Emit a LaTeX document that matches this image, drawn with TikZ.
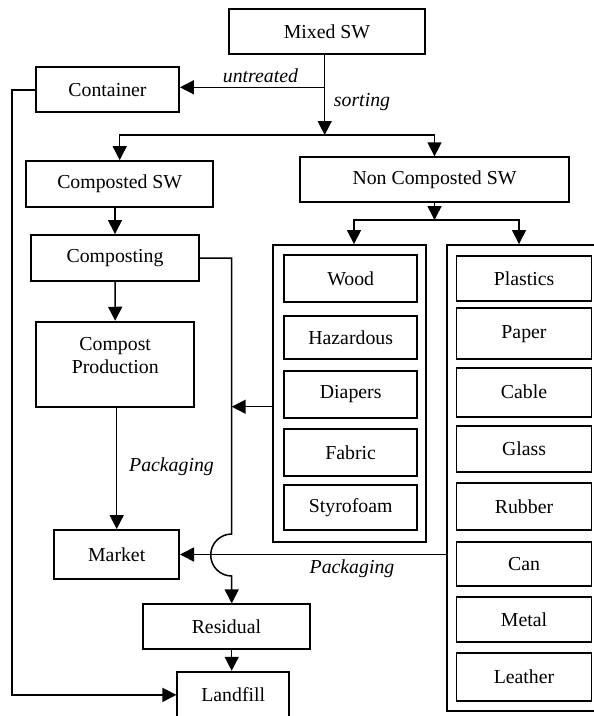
\documentclass[tikz,border=0pt]{standalone}
\usepackage{fontspec}
\setmainfont{Liberation Serif}
\usetikzlibrary{arrows.meta}
\begin{document}
\begin{tikzpicture}[x=1pt,y=-1pt,
  txt/.style={font=\fontsize{19.8}{23}\selectfont},
  box/.style={draw,line width=1.9pt,inner sep=0pt,txt},
  ln/.style={line width=1.5pt},
  arr/.style={ln,-{Triangle[length=14pt,width=14pt]}},
  lab/.style={txt,font=\fontsize{19.8}{23}\selectfont\itshape,inner sep=0pt,anchor=base}]
\useasboundingbox (0,0) rectangle (594,716);
\fill[white] (0,0) rectangle (594,716);
\clip (0,0) rectangle (594,716);
% boxes
\node[box,minimum width=196pt,minimum height=44.7pt] (mixed) at (327,31.7) {Mixed SW};
\node[box,minimum width=143pt,minimum height=45pt] (container) at (107.5,89.8) {Container};
\node[box,minimum width=187.3pt,minimum height=46.3pt] (comp) at (119.7,184.2) {Composted SW};
\node[box,minimum width=269pt,minimum height=44.4pt] (noncomp) at (434.5,179.5) {Non Composted SW};
\node[box,minimum width=168pt,minimum height=46pt] (composting) at (115,258) {Composting};
\node[box,minimum width=158.3pt,minimum height=85.6pt] (cprod) at (115.2,364.5) {};
\node[txt,align=center,inner sep=0pt] (cprodtext) at (115.2,356) {Compost\\Production};
\node[box,minimum width=124.7pt,minimum height=49pt] (market) at (116.7,554.5) {Market};
\node[box,minimum width=167.3pt,minimum height=44.7pt] (residual) at (226.4,626.7) {Residual};
\node[box,minimum width=111.7pt,minimum height=46.3pt] (landfill) at (233.2,694.9) {Landfill};
% containers
\node[box,minimum width=152.7pt,minimum height=296.7pt] (lc) at (349.7,393.4) {};
\node[box,minimum width=155.3pt,minimum height=466pt] (rc) at (524.3,478) {};
% left column items
\node[box,minimum width=133.3pt,minimum height=46.7pt] (wood) at (350.7,278.3) {Wood};
\node[box,minimum width=133.3pt,minimum height=43.6pt] (haz) at (350.7,337.5) {Hazardous};
\node[box,minimum width=133.3pt,minimum height=46.7pt] (diap) at (350.7,394.3) {Diapers};
\node[box,minimum width=133.3pt,minimum height=46.7pt] (fab) at (350.7,452.3) {Fabric};
\node[box,minimum width=133.3pt,minimum height=45pt] (styro) at (350.7,507.5) {Styrofoam};
% right column items
\node[box,minimum width=135pt,minimum height=45pt] (plas) at (524,278.5) {Plastics};
\node[box,minimum width=135pt,minimum height=50.7pt] (paper) at (524,333.7) {Paper};
\node[box,minimum width=135pt,minimum height=49pt] (cable) at (524,392.2) {Cable};
\node[box,minimum width=135pt,minimum height=46.6pt] (glass) at (524,449) {Glass};
\node[box,minimum width=135pt,minimum height=47.3pt] (rubber) at (524,506.3) {Rubber};
\node[box,minimum width=135pt,minimum height=43.4pt] (can) at (524,564) {Can};
\node[box,minimum width=135pt,minimum height=45.6pt] (metal) at (524,619.5) {Metal};
\node[box,minimum width=135pt,minimum height=47.4pt] (leather) at (524,677) {Leather};
% helper coordinates
\coordinate (s1) at (324.7,135);
\coordinate (u1) at (324.7,87.3);
\coordinate (s2) at (434.5,220);
\coordinate (j) at (231.7,258);
\coordinate (jtop) at (231.7,534);
\coordinate (a1) at (231.7,406.7);
\coordinate (c1) at (12,0);
% connectors
\draw[arr] (mixed.south -| s1) -- (s1);
\draw[arr] (u1) -- (container.east |- u1);
\draw[arr] (s1) -| (comp.north);
\draw[arr] (s1) -| (noncomp.north);
\draw[arr] (comp.south -| composting.north) -- (composting.north);
\draw[arr] (noncomp.south) -- (s2);
\draw[arr] (s2) -| ([xshift=4.3pt]lc.north);
\draw[arr] (s2) -| ([xshift=-5.3pt]rc.north);
\draw[arr] (composting.south) -- (cprod.north);
\draw[arr] (cprod.south -| market.north) -- (market.north);
\draw[arr] (composting.east |- j) -- (j) -- (jtop) arc[start angle=270,end angle=90,radius=21] -- (residual.north -| j);
\draw[arr] (lc.west |- a1) -- (a1);
\draw[arr] (rc.west |- market.east) -- (market.east);
\draw[arr] (residual.south -| j) -- (landfill.north -| j);
\draw[arr] (container.west) -- (container.west -| c1) |- (landfill.west);
% labels
\node[lab] (luntreated) at (260.5,82) {untreated};
\node[lab] (lsorting) at (362,106.7) {sorting};
\node[lab] (lpack1) at (171.5,471) {Packaging};
\node[lab] (lpack2) at (352,573) {Packaging};
\end{tikzpicture}
\end{document}
